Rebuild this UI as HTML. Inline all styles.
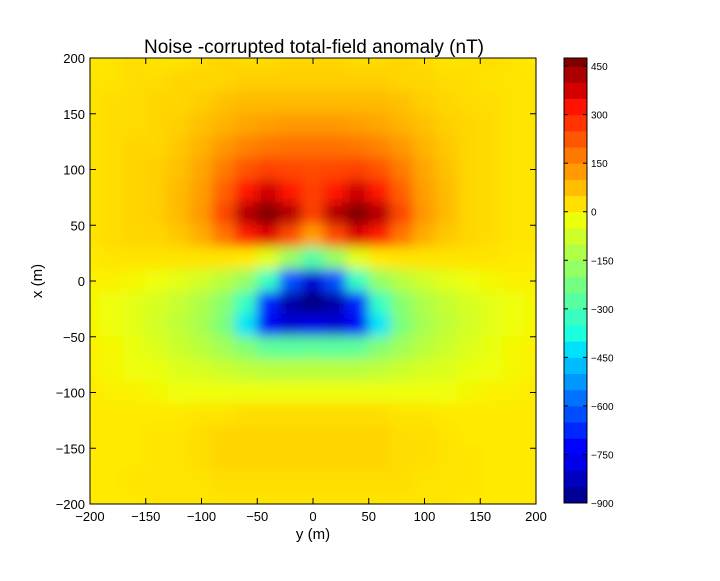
<!DOCTYPE html>
<html><head><meta charset="utf-8"><style>
body{margin:0;background:#fff;font-family:"Liberation Sans",sans-serif}
svg text{font-family:"Liberation Sans",sans-serif}
</style></head><body>
<svg id="chart" width="720" height="576" xmlns="http://www.w3.org/2000/svg">
<defs>
<clipPath id="pc"><rect x="90" y="58" width="446" height="446"/></clipPath>
<filter id="bl" x="-10%" y="-10%" width="120%" height="120%"><feGaussianBlur stdDeviation="6"/></filter>
</defs>
<rect width="720" height="576" fill="#fff"/>
<text x="314" y="53" font-size="19" text-anchor="middle">Noise -corrupted total-field anomaly (nT)</text>
<g id="plot" clip-path="url(#pc)"></g>
<rect x="90" y="58" width="446" height="446" fill="none" stroke="#000"/>
<g id="axes"></g>
<g id="cbar"></g>
<text x="313" y="539" font-size="15" text-anchor="middle">y (m)</text>
<text transform="translate(42,281) rotate(-90)" font-size="15" text-anchor="middle">x (m)</text>
</svg>
<script>
const yCoords=[-200,-180,-160,-140,-120,-100,-80,-60,-40,-20,0,20,40,60,80,100,120,140,160,180,200];
const xCoords=[200,180,160,140,120,100,80,60,40,20,0,-20,-40,-60,-80,-100,-120,-140,-160,-180,-200];
const fieldValues=[
[10,20,30,20,20,30,40,30,30,40,40,40,30,30,40,30,20,20,30,20,10],
[20,20,30,30,40,40,40,50,50,50,50,50,50,50,40,40,30,30,20,20,20],
[20,30,30,40,40,50,70,80,80,80,80,80,80,80,70,50,40,30,30,20,20],
[20,30,30,40,50,70,90,110,120,130,130,130,120,110,90,70,50,40,30,20,20],
[20,30,40,40,60,90,130,160,180,190,190,190,180,160,130,90,60,40,30,20,20],
[20,30,40,50,70,110,170,230,260,250,240,250,260,230,170,110,70,40,30,20,20],
[20,30,40,50,80,120,210,320,380,320,260,320,380,320,210,120,80,40,30,20,20],
[20,30,40,50,80,130,250,410,490,410,260,410,490,410,250,130,80,40,30,20,20],
[20,30,40,40,60,100,180,310,360,240,120,240,360,310,180,100,60,40,30,20,20],
[10,20,20,20,20,20,20,10,-40,-170,-280,-170,-40,10,20,20,20,20,20,10,10],
[0,0,-10,-20,-40,-70,-110,-170,-330,-620,-800,-620,-330,-170,-110,-70,-40,-20,-10,0,0],
[-10,-20,-40,-60,-90,-130,-190,-330,-680,-850,-900,-850,-680,-330,-190,-130,-90,-60,-40,-20,-10],
[-10,-20,-40,-70,-100,-140,-210,-420,-760,-800,-780,-800,-760,-420,-210,-140,-100,-70,-40,-20,-10],
[0,-10,-30,-50,-80,-110,-150,-200,-260,-270,-260,-270,-260,-200,-150,-110,-80,-50,-30,-10,0],
[0,-10,-20,-30,-50,-60,-80,-100,-110,-110,-110,-110,-110,-100,-80,-60,-50,-30,-20,-10,0],
[10,0,0,-10,-20,-20,-20,-20,-20,-20,-20,-20,-20,-20,-20,-20,-20,-10,0,0,10],
[10,10,10,10,10,20,20,30,30,30,30,30,30,30,20,20,10,10,10,10,10],
[10,10,10,20,20,30,40,40,40,40,40,40,40,40,30,30,20,10,10,10,10],
[10,10,10,20,20,30,40,40,40,40,40,40,40,40,30,30,20,20,10,10,10],
[10,10,20,20,20,20,30,30,30,30,30,30,30,30,30,20,20,20,10,10,10],
[10,10,10,20,20,20,20,20,20,20,20,20,20,20,20,20,20,10,10,10,10]];
const axisTicks=[-200,-150,-100,-50,0,50,100,150,200];
const cbarTicks=[450,300,150,0,-150,-300,-450,-600,-750,-900];
const vmin=-900,vmax=475;
const NS="http://www.w3.org/2000/svg";
const px=v=>90+(v+200)/400*446;
const py=v=>504-(v+200)/400*446;
const cy=v=>503-(v-vmin)/(vmax-vmin)*(503-58);
const RS=[[0,0],[0.35,0],[0.66,1],[0.89,1],[1,0.5]];
const GS=[[0,0],[0.125,0],[0.375,1],[0.64,1],[0.91,0],[1,0]];
const BS=[[0,0.5],[0.11,1],[0.34,1],[0.65,0],[1,0]];
function seg(s,t){for(let i=1;i<s.length;i++){if(t<=s[i][0]){const a=s[i-1],b=s[i];return a[1]+(b[1]-a[1])*(t-a[0])/(b[0]-a[0]);}}return s[s.length-1][1];}
function jet(t){t=Math.max(0,Math.min(1,t));
 return `rgb(${Math.round(seg(RS,t)*255)},${Math.round(seg(GS,t)*255)},${Math.round(seg(BS,t)*255)})`;}
const col=v=>jet((v-vmin)/(vmax-vmin));
function mk(tag,attrs,parent){const e=document.createElementNS(NS,tag);for(const k in attrs)e.setAttribute(k,attrs[k]);parent.appendChild(e);return e;}
const plot=document.getElementById('plot');
const bg=mk('rect',{x:80,y:48,width:466,height:466,fill:col(20)},plot);


const grp=mk('g',{filter:'url(#bl)'},plot);


const cw=446/20;
xCoords.forEach((xv,i)=>{yCoords.forEach((yv,j)=>{
 const r=mk('rect',{x:px(yv)-cw/2-0.5,y:py(xv)-cw/2-0.5,width:cw+1,height:cw+1,fill:col(fieldValues[i][j])},grp);
 
 
});});
const axes=document.getElementById('axes');
axisTicks.forEach(t=>{
 const a=mk('text',{x:px(t),y:521,'font-size':13,'text-anchor':'middle'},axes);a.textContent=t===0?'0':String(t).replace('-','\u2212');
 
 
 const b=mk('text',{x:85,y:py(t)+5,'font-size':13,'text-anchor':'end'},axes);b.textContent=t===0?'0':String(t).replace('-','\u2212');
 
 
 mk('line',{x1:px(t),x2:px(t),y1:504,y2:498,stroke:'#000'},axes);
 mk('line',{x1:px(t),x2:px(t),y1:58,y2:64,stroke:'#000'},axes);
 mk('line',{x1:90,x2:96,y1:py(t),y2:py(t),stroke:'#000'},axes);
 mk('line',{x1:536,x2:530,y1:py(t),y2:py(t),stroke:'#000'},axes);
});
const cb=document.getElementById('cbar');
for(let v=vmin;v<vmax;v+=50){
 const top=Math.min(vmax,v+50);
 const r=mk('rect',{x:564,y:cy(top),width:23,height:cy(v)-cy(top)+0.5,fill:col(v+25)},cb);
 
 
}
mk('rect',{x:564,y:58,width:23,height:445,fill:'none',stroke:'#000'},cb);
cbarTicks.forEach(t=>{
 mk('line',{x1:564,x2:568,y1:cy(t),y2:cy(t),stroke:'#000'},cb);
 mk('line',{x1:587,x2:583,y1:cy(t),y2:cy(t),stroke:'#000'},cb);
 const l=mk('text',{x:591,y:cy(t)+4,'font-size':10},cb);l.textContent=String(t).replace('-','\u2212');
 
 
});
</script>
</body></html>
